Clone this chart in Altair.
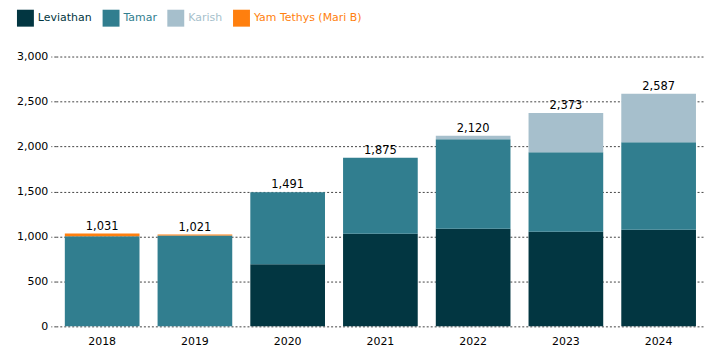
import altair as alt
import pandas as pd

years = ["2018", "2019", "2020", "2021", "2022", "2023", "2024"]
series = ["Leviathan", "Tamar", "Karish", "Yam Tethys (Mari B)"]
colors = ["#023641", "#317e8f", "#a6bfcc", "#ff7f0e"]
leviathan = [0, 0, 690, 1030, 1085, 1052, 1074]
tamar = [1001, 1010, 801, 845, 996, 885, 974]
karish = [0, 0, 0, 0, 39, 436, 539]
yam = [30, 11, 0, 0, 0, 0, 0]
totals = [1031, 1021, 1491, 1875, 2120, 2373, 2587]

rows = []
for i, y in enumerate(years):
    for s, vals in zip(series, [leviathan, tamar, karish, yam]):
        rows.append({"year": y, "series": s, "value": vals[i], "order": series.index(s)})
df = pd.DataFrame(rows)
tot = pd.DataFrame({"year": years, "total": totals})

font = "DejaVu Sans"
color_expr = ("datum.label == 'Leviathan' ? '#023641' : datum.label == 'Tamar' ? '#317e8f' : "
              "datum.label == 'Karish' ? '#a6bfcc' : '#ff7f0e'")

bars = alt.Chart(df).mark_bar(size=75).encode(
    x=alt.X("year:N", title=None, sort=years,
            axis=alt.Axis(labelAngle=0, domain=False, ticks=False, labelPadding=9)),
    y=alt.Y("value:Q", title=None, stack="zero", scale=alt.Scale(domain=[0, 3000]),
            axis=alt.Axis(values=[0, 500, 1000, 1500, 2000, 2500, 3000], format=",d",
                          domain=False, tickSize=5, tickDash=[2, 2], tickColor="#444",
                          gridDash=[2, 2], gridColor="#444", labelPadding=3)),
    color=alt.Color("series:N", scale=alt.Scale(domain=series, range=colors),
                    legend=alt.Legend(title=None, orient="none", legendX=-39, legendY=-47,
                                      direction="horizontal", symbolType="square",
                                      symbolSize=289, symbolStrokeWidth=0, symbolOpacity=1,
                                      labelFontSize=11, labelFont=font, columnPadding=10,
                                      labelColor=alt.ExprRef(color_expr))),
    order=alt.Order("order:Q", sort="ascending"),
)

labels = alt.Chart(tot).mark_text(dy=-7, fontSize=11.5, font=font, color="#000").encode(
    x=alt.X("year:N", sort=years),
    y=alt.Y("total:Q"),
    text=alt.Text("total:Q", format=",d"),
)

chart = (bars + labels).properties(
    width=652, height=271, padding={"left": 8, "top": 1, "right": 0, "bottom": 0}
).configure_axis(
    labelFont=font, labelFontSize=11, labelColor="#000"
).configure_view(stroke=None)

chart.save("out.html", embed_options={"renderer": "svg", "actions": False})
